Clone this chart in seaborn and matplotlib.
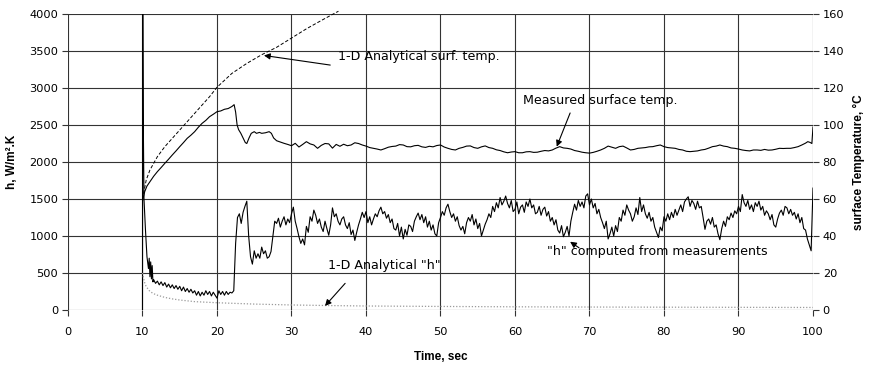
import numpy as np
import pandas as pd
import matplotlib
matplotlib.use("Agg")
import matplotlib.pyplot as plt
import seaborn as sns

# ---------------- data ----------------
# measured h, early part (explicit times)
h_time_early = [10.0, 10.03, 10.1, 10.2, 10.4, 10.6, 10.8, 10.9, 11.0, 11.1, 11.2, 11.3, 11.4,
                11.5, 11.75, 12.0, 12.25, 12.5, 12.75, 13.0, 13.25, 13.5, 13.75, 14.0, 14.25,
                14.5, 14.75, 15.0, 15.25, 15.5, 15.75, 16.0, 16.25, 16.5, 16.75, 17.0, 17.25,
                17.5, 17.75, 18.0, 18.25, 18.5, 18.75, 19.0, 19.25, 19.5, 19.75, 20.0, 20.25,
                20.5, 20.75, 21.0, 21.25, 21.5, 21.75]
h_early = [0, 4300, 2600, 1500, 1080, 720, 560, 700, 450, 650, 420, 600, 380,
           410, 360, 390, 340, 380, 330, 370, 310, 350, 300, 340, 290,
           330, 280, 320, 260, 310, 250, 290, 240, 280, 230, 260, 200,
           250, 190, 240, 200, 260, 210, 250, 190, 240, 200, 160, 260,
           210, 250, 200, 250, 210, 240]

# measured h, sampled every 0.25 s from 22.0 s to 100.0 s (4 values per second)
h_late = [
    230, 260, 900, 1250,    1300, 1170, 1320, 1400,    # 22-23
    1470, 1000, 720, 620,   800, 700, 760, 700,        # 24-25
    850, 760, 800, 700,     720, 790, 1000, 1200,      # 26-27
    1170, 1240, 1120, 1200, 1260, 1150, 1230, 1180,    # 28-29
    1300, 1390, 1200, 1100, 990, 900, 960, 880,        # 30-31
    1130, 1050, 1260, 1200, 1350, 1280, 1170, 1230,    # 32-33
    1120, 1060, 1200, 1100, 1010, 1150, 1380, 1260,    # 34-35
    1300, 1200, 1150, 1230, 1260, 1150, 1100, 1180,    # 36-37
    1020, 1080, 940, 1050,  1150, 1230, 1320, 1250,    # 38-39
    1330, 1180, 1260, 1150, 1230, 1300, 1260, 1340,    # 40-41
    1390, 1300, 1330, 1240, 1290, 1180, 1230, 1100,    # 42-43
    1080, 1170, 1000, 1120, 960, 1090, 1010, 1150,     # 44-45
    1130, 1060, 1200, 1260, 1310, 1220, 1290, 1180,    # 46-47
    1260, 1120, 1200, 1080, 1150, 1030, 1000, 1180,    # 48-49
    1250, 1330, 1280, 1380, 1430, 1330, 1250, 1300,    # 50-51
    1200, 1260, 1140, 1080, 1130, 1030, 1180, 1250,    # 52-53
    1200, 1290, 1150, 1230, 1100, 1170, 1000, 1080,    # 54-55
    1160, 1220, 1300, 1250, 1400, 1330, 1450, 1380,    # 56-57
    1520, 1420, 1470, 1540, 1440, 1380, 1480, 1330,    # 58-59
    1360, 1460, 1300, 1390, 1420, 1320, 1460, 1400,    # 60-61
    1500, 1380, 1420, 1300, 1320, 1400, 1280, 1360,    # 62-63
    1390, 1270, 1330, 1200, 1250, 1150, 1220, 1080,    # 64-65
    1040, 1140, 990, 1050,  1130, 1000, 1200, 1320,    # 66-67
    1430, 1350, 1480, 1400, 1460, 1380, 1540, 1570,    # 68-69
    1420, 1500, 1380, 1440, 1300, 1360, 1250, 1180,    # 70-71
    1100, 1200, 960, 1030,  1120, 1000, 1140, 1060,    # 72-73
    1250, 1200, 1350, 1280, 1420, 1350, 1300, 1200,    # 74-75
    1260, 1380, 1290, 1520, 1330, 1420, 1300, 1240,    # 76-77
    1320, 1200, 1250, 1120, 1050, 980, 1120, 1070,     # 78-79
    1260, 1200, 1300, 1220, 1320, 1250, 1360, 1280,    # 80-81
    1350, 1420, 1330, 1460, 1500, 1530, 1400, 1480,    # 82-83
    1440, 1360, 1470, 1380, 1400, 1250, 1090, 1200,    # 84-85
    1230, 1160, 1250, 1120, 1150, 1030, 950, 1100,     # 86-87
    1200, 1130, 1260, 1220, 1310, 1250, 1340, 1300,    # 88-89
    1400, 1330, 1560, 1450, 1400, 1480, 1360, 1420,    # 90-91
    1330, 1450, 1400, 1470, 1350, 1400, 1280, 1340,    # 92-93
    1300, 1220, 1290, 1150, 1120, 1230, 1310, 1350,    # 94-95
    1280, 1400, 1380, 1300, 1360, 1280, 1320, 1230,    # 96-97
    1300, 1180, 1250, 1100, 1080, 960, 880, 800,       # 98-99
    1650,                                              # 100
]
h_time_late = list(np.arange(22.0, 100.001, 0.25))

# measured surface temperature (deg C)
temp_time = [10.0, 10.3, 10.6, 11, 11.5, 12, 12.5, 13, 13.5, 14, 14.5, 15, 15.5, 16, 16.5, 17,
             17.5, 18, 18.5, 19, 19.5, 20, 20.5, 21, 21.5, 22, 22.3, 22.5, 22.7, 22.9, 23.2,
             23.5, 23.8, 24.0, 24.3, 24.6, 25.0, 25.3, 25.7, 26.0, 26.5, 27.0, 27.3, 27.6,
             28, 28.5, 29, 29.5, 30, 30.5, 31, 31.5, 32, 32.5, 33, 33.5, 34, 34.5, 35, 35.5,
             36, 36.5, 37, 37.5, 38, 38.5, 39, 39.5, 40, 40.5, 41, 41.5, 42, 42.5, 43, 43.5,
             44, 44.5, 45, 45.5, 46, 46.5, 47, 47.5, 48, 48.5, 49, 49.5, 50, 50.5, 51, 51.5,
             52, 52.5, 53, 53.5, 54, 54.5, 55, 55.5, 56, 56.5, 57, 57.5, 58, 58.5, 59, 59.5,
             60, 60.5, 61, 61.5, 62, 62.5, 63, 63.5, 64, 64.5, 65, 65.5, 66, 66.5, 67, 67.5,
             68, 68.5, 69, 69.5, 70, 70.5, 71, 71.5, 72, 72.5, 73, 73.5, 74, 74.5, 75, 75.5,
             76, 76.5, 77, 77.5, 78, 78.5, 79, 79.5, 80, 80.5, 81, 81.5, 82, 82.5, 83, 83.5,
             84, 84.5, 85, 85.5, 86, 86.5, 87, 87.5, 88, 88.5, 89, 89.5, 90, 90.5, 91, 91.5,
             92, 92.5, 93, 93.5, 94, 94.5, 95, 95.5, 96, 96.5, 97, 97.5, 98, 98.5, 99, 99.3,
             99.6, 99.85, 100]
temp_meas = [59, 64, 67, 69.4, 72.3, 74.8, 77, 79.3, 81.5, 83.8, 86, 88.3, 90.5, 92.8, 94.5, 96.4,
             98.8, 100.9, 102.5, 104.5, 105.8, 107.2, 107.6, 108.5, 108.9, 110.0, 111.0, 107, 100, 97.5, 95.5,
             93, 90.5, 90, 93, 95.5, 96.4, 95.5, 96, 95.5, 95.8, 96.4, 95.5, 93,
             91.5, 90.8, 90.1, 89.5, 88.8, 90.1, 88.1, 89.5, 91, 89.8, 89.2, 87.4, 89, 90, 89.8, 87.5,
             89.5, 88.5, 89.6, 88.8, 89.2, 90.4, 90, 89.2, 88.6, 87.8, 87.4, 87, 86.5, 87.2, 88, 88.4,
             88.6, 89.4, 89.2, 88.3, 88.2, 88.8, 89, 88.2, 87.9, 88.5, 88.2, 88.9, 89.2, 88.1, 87.4, 86.8,
             86.5, 87.4, 87.9, 88.6, 88.7, 87.8, 87.4, 88.2, 88.7, 87.8, 87.4, 86.6, 86.2, 85.5, 85.0, 85.4,
             85.6, 85.0, 85.0, 85.5, 85.6, 85.2, 85.3, 85.8, 86.2, 86.0, 86.5, 87.5, 88.3, 87.6, 87.4, 87.0,
             86.2, 85.8, 85.3, 85.0, 84.8, 85.2, 85.8, 86.5, 87.4, 88.6, 88.0, 87.4, 88.3, 88.6, 87.6, 86.5,
             86.8, 87.4, 87.6, 87.8, 88.2, 88.3, 88.8, 89.2, 88.3, 87.8, 87.6, 87.4, 86.8, 86.5, 85.8, 85.6,
             85.8, 86.0, 86.5, 86.8, 87.5, 88.3, 88.6, 89.2, 88.6, 88.3, 87.6, 87.4, 87.0, 86.5, 86.2, 86.0,
             86.5, 86.5, 86.3, 86.8, 86.4, 86.5, 86.9, 87.4, 87.3, 87.4, 87.4, 87.8, 88.3, 89.2, 90.2, 91.0,
             90.6, 90.0, 99]

# 1-D analytical surface temperature (deg C)
ana_temp_time = [10, 10.5, 11, 12, 13, 14, 15, 16, 17, 18, 19, 20, 22, 24, 26, 28, 30, 32, 34, 35.6, 36.3]
ana_temp = [60, 70.3, 75.7, 82.9, 88.3, 92.8, 97.3, 101.8, 106.3, 110.8, 115.3, 120.4, 127.9,
            133.3, 138.0, 142.0, 147.0, 152.0, 156.5, 160.0, 161.5]

# 1-D analytical h (W/m2.K)
ana_h_time = [10, 10.25, 10.5, 11, 11.5, 12, 13, 14, 15, 17, 20, 25, 30, 35, 40, 50, 60, 70, 80, 90, 100]
ana_h = [500, 380, 315, 250, 220, 200, 170, 150, 135, 113, 98, 80, 68, 60, 54, 48, 43, 40, 38, 36, 34]

x_ticks = list(range(0, 101, 10))
h_ticks = list(range(0, 4001, 500))
t_ticks = list(range(0, 161, 20))

# ---------------- figure ----------------
sns.set_theme(style="white")
plt.rcParams['font.family'] = ['DejaVu Sans']
plt.rcParams['text.color'] = 'black'
plt.rcParams['axes.labelcolor'] = 'black'
plt.rcParams['xtick.color'] = 'black'
plt.rcParams['ytick.color'] = 'black'

fig = plt.figure(figsize=(8.74, 3.65), dpi=100)
ax = fig.add_axes([0.0778, 0.1507, 0.8524, 0.8109])
ax2 = ax.twinx()

h_df = pd.DataFrame({"t": h_time_early + h_time_late, "h": h_early + h_late})
sns.lineplot(data=h_df, x="t", y="h", ax=ax, color="black", linewidth=0.8, sort=False)
sns.lineplot(x=ana_h_time, y=ana_h, ax=ax, color="#9a9a9a", linewidth=0.9, linestyle=(0, (1, 1.5)))

sns.lineplot(x=temp_time, y=temp_meas, ax=ax2, color="black", linewidth=0.8, sort=False)
sns.lineplot(x=ana_temp_time, y=ana_temp, ax=ax2, color="black", linewidth=0.7,
             linestyle=(0, (3.5, 2)))
ax2.lines[-1].set_clip_on(False)

ax.set_xlim(0, 100)
ax.set_ylim(0, 4000)
ax2.set_ylim(0, 160)
ax.set_xticks(x_ticks)
ax.set_yticks(h_ticks)
ax2.set_yticks(t_ticks)

ax.grid(True, color="#333333", linewidth=0.8)
ax.set_axisbelow(True)
ax2.grid(False)
for a in (ax, ax2):
    for s in a.spines.values():
        s.set_visible(False)

ax.tick_params(axis="both", direction="out", length=4, width=0.8, color="#333333",
               labelsize=8.2, labelcolor="black", left=True, bottom=True)
ax.tick_params(axis="x", pad=8)
ax.tick_params(axis="y", pad=3)
ax2.tick_params(axis="y", direction="out", length=4, width=0.8, color="#333333",
                labelsize=8.2, labelcolor="black", right=True, pad=3)

lab_font = dict(family=["Liberation Sans", "DejaVu Sans"], weight="bold", size=8.5, color="black")
ax.set_xlabel("Time, sec", fontdict=lab_font, labelpad=10)
ax.set_ylabel("h, W/m\u00b2.K", fontdict=lab_font, labelpad=8)
ax2.set_ylabel("surface Temperature, \u00b0C", fontdict=lab_font, labelpad=6)

ann_size = 9.1
arrow = dict(arrowstyle="-|>", color="black", lw=0.8, mutation_scale=9, shrinkA=0, shrinkB=0)

ax2.text(36.2, 137.3, "1-D Analytical surf. temp.", fontsize=ann_size, ha="left", va="center",
         color="black")
ax2.annotate("", xy=(26.3, 137.6), xytext=(35.2, 132.4), arrowprops=arrow)

ax2.text(61.1, 113, "Measured surface temp.", fontsize=ann_size, ha="left", va="center",
         color="black")
ax2.annotate("", xy=(65.6, 88.3), xytext=(67.4, 106.5), arrowprops=arrow)

ax2.text(64.3, 31.4, "\"h\" computed from measurements", fontsize=ann_size, ha="left",
         va="center", color="black")
ax2.annotate("", xy=(67.4, 36.9), xytext=(68.6, 33.6), arrowprops=arrow)

ax2.text(34.9, 23.8, "1-D Analytical \"h\"", fontsize=ann_size, ha="left", va="center",
         color="black")
ax2.annotate("", xy=(34.5, 2.2), xytext=(37.2, 14.4), arrowprops=arrow)

fig.savefig("out.png", dpi=100)
